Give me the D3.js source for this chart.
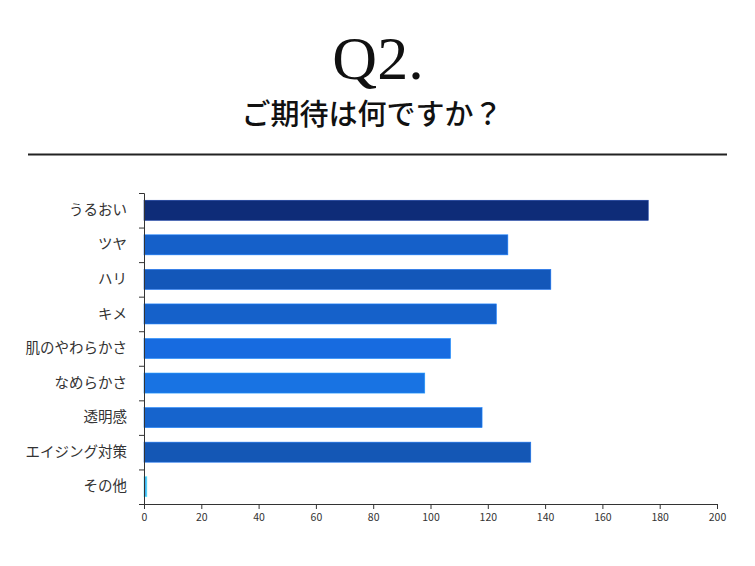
<!DOCTYPE html>
<html>
<head>
<meta charset="utf-8">
<script src="https://cdn.jsdelivr.net/npm/d3@7"></script>
<style>
  body { margin: 0; background: #fff; }
  svg { display: block; }
  .axis text { font-family: "Noto Sans CJK JP", "Noto Sans", sans-serif; fill: #333; }
  .axis path, .axis line { stroke: #333; }
</style>
</head>
<body>
<svg id="chart" width="755" height="566"></svg>
<script>
const categories = ['うるおい', 'ツヤ', 'ハリ', 'キメ', '肌のやわらかさ', 'なめらかさ', '透明感', 'エイジング対策', 'その他'];
const values = [176, 127, 142, 123, 107, 98, 118, 135, 1];
const colors = ['#0e2c78', '#1560c9', '#1357b9', '#1561ca', '#176be0', '#1873e3', '#1664cd', '#1457b5', '#3fb2f2'];
const xTicks = [0, 20, 40, 60, 80, 100, 120, 140, 160, 180, 200];

const svg = d3.select('#chart');

// title
svg.append('text')
  .attr('x', 378).attr('y', 79)
  .attr('text-anchor', 'middle')
  .style('font-family', '"Liberation Serif", "DejaVu Serif", serif')
  .style('font-size', '62px')
  .style('fill', '#111')
  .text('Q2.');

svg.append('text')
  .attr('x', 372).attr('y', 125)
  .attr('text-anchor', 'middle')
  .style('font-family', '"Noto Sans CJK JP", sans-serif')
  .style('font-size', '29px')
  .style('font-weight', '500')
  .style('fill', '#111')
  .text('ご期待は何ですか？');

svg.append('line')
  .attr('x1', 28).attr('x2', 727)
  .attr('y1', 154.5).attr('y2', 154.5)
  .attr('stroke', '#222').attr('stroke-width', 2);

let margins = { top: 193, left: 144, right: 717, bottom: 504 };

let x = d3.scaleLinear().domain([0, 200]).range([margins.left, margins.right]),
  y = d3.scaleBand().domain(categories).range([margins.top, margins.bottom])
    .paddingInner(0.42).paddingOuter(0.21),
  yEdge = d3.scaleLinear().domain([0, categories.length]).range([margins.top, margins.bottom]);

// bars
svg.selectAll('.bar')
  .data(categories)
  .enter()
  .append('rect')
  .attr('class', 'bar')
  .attr('x', x(0))
  .attr('y', d => y(d))
  .attr('width', (d, i) => Math.max(x(values[i]) - x(0), 2))
  .attr('height', y.bandwidth())
  .style('fill', (d, i) => colors[i])
  .style('stroke', (d, i) => d3.color(colors[i]).brighter(0.8))
  .style('stroke-width', 0.6);

// x axis
svg.append('g')
  .attr('class', 'axis x')
  .attr('transform', 'translate(0,' + margins.bottom + ')')
  .call(d3.axisBottom(x).tickValues(xTicks).tickSize(5).tickSizeOuter(5))
  .call(g => g.selectAll('text').style('font-size', '10.5px').attr('dy', '0.9em'));

// y axis boundary ticks
svg.append('g')
  .attr('class', 'axis y-edge')
  .attr('transform', 'translate(' + margins.left + ',0)')
  .call(d3.axisLeft(yEdge).ticks(categories.length).tickSize(5).tickSizeOuter(5).tickFormat(''));

// y axis labels
svg.append('g')
  .attr('class', 'axis y')
  .attr('transform', 'translate(' + margins.left + ',0)')
  .call(d3.axisLeft(y).tickSize(0).tickPadding(17))
  .call(g => g.select('.domain').remove())
  .call(g => g.selectAll('text').style('font-size', '14.5px'));
</script>
</body>
</html>
